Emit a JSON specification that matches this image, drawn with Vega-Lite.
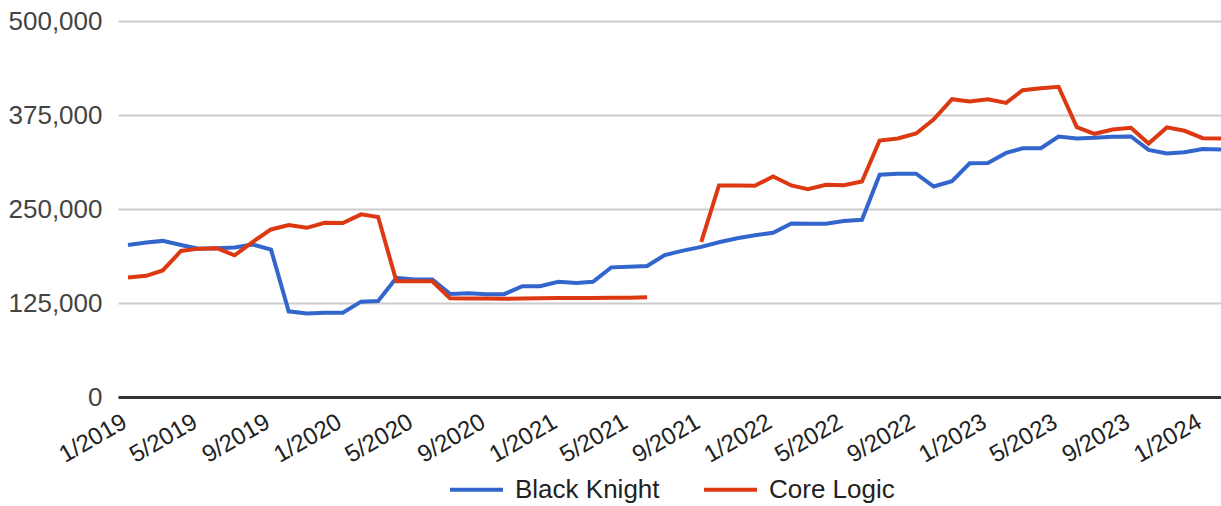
{
  "$schema": "https://vega.github.io/schema/vega-lite/v6.json",
  "autosize": {"type": "none"},
  "width": 1103,
  "height": 376,
  "padding": {"left": 118, "top": 21, "right": 0, "bottom": 109},
  "background": "white",
  "config": {
    "view": {"stroke": null},
    "font": "Arial, Liberation Sans, sans-serif"
  },
  "data": {
    "values": [
      {"date": "2019-01-01", "series": "Black Knight", "value": 202200},
      {"date": "2019-02-01", "series": "Black Knight", "value": 205400},
      {"date": "2019-03-01", "series": "Black Knight", "value": 207600},
      {"date": "2019-04-01", "series": "Black Knight", "value": 202200},
      {"date": "2019-05-01", "series": "Black Knight", "value": 197300},
      {"date": "2019-06-01", "series": "Black Knight", "value": 197800},
      {"date": "2019-07-01", "series": "Black Knight", "value": 198700},
      {"date": "2019-08-01", "series": "Black Knight", "value": 202700},
      {"date": "2019-09-01", "series": "Black Knight", "value": 196000},
      {"date": "2019-10-01", "series": "Black Knight", "value": 113900},
      {"date": "2019-11-01", "series": "Black Knight", "value": 111200},
      {"date": "2019-12-01", "series": "Black Knight", "value": 112100},
      {"date": "2020-01-01", "series": "Black Knight", "value": 112100},
      {"date": "2020-02-01", "series": "Black Knight", "value": 126800},
      {"date": "2020-03-01", "series": "Black Knight", "value": 127700},
      {"date": "2020-04-01", "series": "Black Knight", "value": 158500},
      {"date": "2020-05-01", "series": "Black Knight", "value": 156300},
      {"date": "2020-06-01", "series": "Black Knight", "value": 156300},
      {"date": "2020-07-01", "series": "Black Knight", "value": 137100},
      {"date": "2020-08-01", "series": "Black Knight", "value": 138000},
      {"date": "2020-09-01", "series": "Black Knight", "value": 136700},
      {"date": "2020-10-01", "series": "Black Knight", "value": 136700},
      {"date": "2020-11-01", "series": "Black Knight", "value": 147400},
      {"date": "2020-12-01", "series": "Black Knight", "value": 147400},
      {"date": "2021-01-01", "series": "Black Knight", "value": 153200},
      {"date": "2021-02-01", "series": "Black Knight", "value": 151500},
      {"date": "2021-03-01", "series": "Black Knight", "value": 153200},
      {"date": "2021-04-01", "series": "Black Knight", "value": 172400},
      {"date": "2021-05-01", "series": "Black Knight", "value": 173300},
      {"date": "2021-06-01", "series": "Black Knight", "value": 174200},
      {"date": "2021-07-01", "series": "Black Knight", "value": 188800},
      {"date": "2021-08-01", "series": "Black Knight", "value": 194700},
      {"date": "2021-09-01", "series": "Black Knight", "value": 199600},
      {"date": "2021-10-01", "series": "Black Knight", "value": 205800},
      {"date": "2021-11-01", "series": "Black Knight", "value": 211200},
      {"date": "2021-12-01", "series": "Black Knight", "value": 215200},
      {"date": "2022-01-01", "series": "Black Knight", "value": 218300},
      {"date": "2022-02-01", "series": "Black Knight", "value": 230800},
      {"date": "2022-03-01", "series": "Black Knight", "value": 230400},
      {"date": "2022-04-01", "series": "Black Knight", "value": 230400},
      {"date": "2022-05-01", "series": "Black Knight", "value": 234000},
      {"date": "2022-06-01", "series": "Black Knight", "value": 235700},
      {"date": "2022-07-01", "series": "Black Knight", "value": 295500},
      {"date": "2022-08-01", "series": "Black Knight", "value": 296900},
      {"date": "2022-09-01", "series": "Black Knight", "value": 296900},
      {"date": "2022-10-01", "series": "Black Knight", "value": 279900},
      {"date": "2022-11-01", "series": "Black Knight", "value": 287000},
      {"date": "2022-12-01", "series": "Black Knight", "value": 310700},
      {"date": "2023-01-01", "series": "Black Knight", "value": 311200},
      {"date": "2023-02-01", "series": "Black Knight", "value": 324600},
      {"date": "2023-03-01", "series": "Black Knight", "value": 330800},
      {"date": "2023-04-01", "series": "Black Knight", "value": 330800},
      {"date": "2023-05-01", "series": "Black Knight", "value": 346400},
      {"date": "2023-06-01", "series": "Black Knight", "value": 343800},
      {"date": "2023-07-01", "series": "Black Knight", "value": 344600},
      {"date": "2023-08-01", "series": "Black Knight", "value": 346000},
      {"date": "2023-09-01", "series": "Black Knight", "value": 346400},
      {"date": "2023-10-01", "series": "Black Knight", "value": 328600},
      {"date": "2023-11-01", "series": "Black Knight", "value": 323700},
      {"date": "2023-12-01", "series": "Black Knight", "value": 325400},
      {"date": "2024-01-01", "series": "Black Knight", "value": 329900},
      {"date": "2024-02-01", "series": "Black Knight", "value": 329000},
      {"date": "2019-01-01", "series": "Core Logic", "value": 158900},
      {"date": "2019-02-01", "series": "Core Logic", "value": 161200},
      {"date": "2019-03-01", "series": "Core Logic", "value": 168300},
      {"date": "2019-04-01", "series": "Core Logic", "value": 194200},
      {"date": "2019-05-01", "series": "Core Logic", "value": 197300},
      {"date": "2019-06-01", "series": "Core Logic", "value": 197800},
      {"date": "2019-07-01", "series": "Core Logic", "value": 188400},
      {"date": "2019-08-01", "series": "Core Logic", "value": 206300},
      {"date": "2019-09-01", "series": "Core Logic", "value": 222800},
      {"date": "2019-10-01", "series": "Core Logic", "value": 228600},
      {"date": "2019-11-01", "series": "Core Logic", "value": 225000},
      {"date": "2019-12-01", "series": "Core Logic", "value": 231700},
      {"date": "2020-01-01", "series": "Core Logic", "value": 231300},
      {"date": "2020-02-01", "series": "Core Logic", "value": 242900},
      {"date": "2020-03-01", "series": "Core Logic", "value": 239300},
      {"date": "2020-04-01", "series": "Core Logic", "value": 154000},
      {"date": "2020-05-01", "series": "Core Logic", "value": 154000},
      {"date": "2020-06-01", "series": "Core Logic", "value": 154000},
      {"date": "2020-07-01", "series": "Core Logic", "value": 131300},
      {"date": "2020-08-01", "series": "Core Logic", "value": 130900},
      {"date": "2020-09-01", "series": "Core Logic", "value": 130900},
      {"date": "2020-10-01", "series": "Core Logic", "value": 130700},
      {"date": "2020-11-01", "series": "Core Logic", "value": 131000},
      {"date": "2020-12-01", "series": "Core Logic", "value": 131300},
      {"date": "2021-01-01", "series": "Core Logic", "value": 131500},
      {"date": "2021-02-01", "series": "Core Logic", "value": 131700},
      {"date": "2021-03-01", "series": "Core Logic", "value": 131800},
      {"date": "2021-04-01", "series": "Core Logic", "value": 132000},
      {"date": "2021-05-01", "series": "Core Logic", "value": 132000},
      {"date": "2021-06-01", "series": "Core Logic", "value": 132500},
      {"date": "2021-07-01", "series": "Core Logic", "value": null},
      {"date": "2021-08-01", "series": "Core Logic", "value": null},
      {"date": "2021-09-01", "series": "Core Logic", "value": 206300},
      {"date": "2021-10-01", "series": "Core Logic", "value": 281300},
      {"date": "2021-11-01", "series": "Core Logic", "value": 281300},
      {"date": "2021-12-01", "series": "Core Logic", "value": 280800},
      {"date": "2022-01-01", "series": "Core Logic", "value": 293300},
      {"date": "2022-02-01", "series": "Core Logic", "value": 281300},
      {"date": "2022-03-01", "series": "Core Logic", "value": 276300},
      {"date": "2022-04-01", "series": "Core Logic", "value": 282100},
      {"date": "2022-05-01", "series": "Core Logic", "value": 281700},
      {"date": "2022-06-01", "series": "Core Logic", "value": 286600},
      {"date": "2022-07-01", "series": "Core Logic", "value": 341100},
      {"date": "2022-08-01", "series": "Core Logic", "value": 343800},
      {"date": "2022-09-01", "series": "Core Logic", "value": 350400},
      {"date": "2022-10-01", "series": "Core Logic", "value": 369200},
      {"date": "2022-11-01", "series": "Core Logic", "value": 396000},
      {"date": "2022-12-01", "series": "Core Logic", "value": 392900},
      {"date": "2023-01-01", "series": "Core Logic", "value": 396000},
      {"date": "2023-02-01", "series": "Core Logic", "value": 391100},
      {"date": "2023-03-01", "series": "Core Logic", "value": 408000},
      {"date": "2023-04-01", "series": "Core Logic", "value": 410700},
      {"date": "2023-05-01", "series": "Core Logic", "value": 412500},
      {"date": "2023-06-01", "series": "Core Logic", "value": 358900},
      {"date": "2023-07-01", "series": "Core Logic", "value": 350000},
      {"date": "2023-08-01", "series": "Core Logic", "value": 355800},
      {"date": "2023-09-01", "series": "Core Logic", "value": 358000},
      {"date": "2023-10-01", "series": "Core Logic", "value": 337100},
      {"date": "2023-11-01", "series": "Core Logic", "value": 358500},
      {"date": "2023-12-01", "series": "Core Logic", "value": 354000},
      {"date": "2024-01-01", "series": "Core Logic", "value": 344200},
      {"date": "2024-02-01", "series": "Core Logic", "value": 343800}
    ]
  },
  "mark": {"type": "line", "strokeWidth": 4, "invalid": "break-paths-show-domains", "clip": false},
  "encoding": {
    "x": {
      "field": "date",
      "type": "temporal",
      "scale": {"type": "utc", "domain": [{"year": 2018, "month": 12, "date": 15, "utc": true}, {"year": 2024, "month": 2, "date": 1, "utc": true}]},
      "axis": {
        "title": null,
        "grid": false,
        "ticks": false,
        "domain": true,
        "domainColor": "#333333",
        "domainWidth": 3,
        "values": [
          {"year": 2019, "month": 1, "date": 1, "utc": true},
          {"year": 2019, "month": 5, "date": 1, "utc": true},
          {"year": 2019, "month": 9, "date": 1, "utc": true},
          {"year": 2020, "month": 1, "date": 1, "utc": true},
          {"year": 2020, "month": 5, "date": 1, "utc": true},
          {"year": 2020, "month": 9, "date": 1, "utc": true},
          {"year": 2021, "month": 1, "date": 1, "utc": true},
          {"year": 2021, "month": 5, "date": 1, "utc": true},
          {"year": 2021, "month": 9, "date": 1, "utc": true},
          {"year": 2022, "month": 1, "date": 1, "utc": true},
          {"year": 2022, "month": 5, "date": 1, "utc": true},
          {"year": 2022, "month": 9, "date": 1, "utc": true},
          {"year": 2023, "month": 1, "date": 1, "utc": true},
          {"year": 2023, "month": 5, "date": 1, "utc": true},
          {"year": 2023, "month": 9, "date": 1, "utc": true},
          {"year": 2024, "month": 1, "date": 1, "utc": true}
        ],
        "labelExpr": "utcFormat(datum.value, '%-m/%Y')",
        "labelAngle": -30,
        "labelAlign": "right",
        "labelBaseline": "alphabetic",
        "labelPadding": 29,
        "labelOffset": 0,
        "labelFontSize": 24,
        "labelColor": "#222222",
        "labelOverlap": false,
        "labelFlush": false,
        "labelBound": false
      }
    },
    "y": {
      "field": "value",
      "type": "quantitative",
      "scale": {"domain": [0, 500000], "nice": false},
      "axis": {
        "title": null,
        "values": [0, 125000, 250000, 375000, 500000],
        "labelExpr": "format(datum.value, ',')",
        "domain": false,
        "ticks": false,
        "gridColor": "#cccccc",
        "gridWidth": 2,
        "labelPadding": 16,
        "labelFontSize": 26,
        "labelColor": "#444444"
      }
    },
    "color": {
      "field": "series",
      "type": "nominal",
      "scale": {"domain": ["Black Knight", "Core Logic"], "range": ["#3366CC", "#DC3912"]},
      "legend": {
        "title": null,
        "orient": "none",
        "direction": "horizontal",
        "legendX": 330,
        "legendY": 440,
        "symbolType": "stroke",
        "symbolSize": 2809,
        "symbolStrokeWidth": 4,
        "labelFontSize": 26,
        "labelColor": "#222222",
        "labelOffset": 10,
        "columnPadding": 36,
        "labelLimit": 400
      }
    }
  }
}
